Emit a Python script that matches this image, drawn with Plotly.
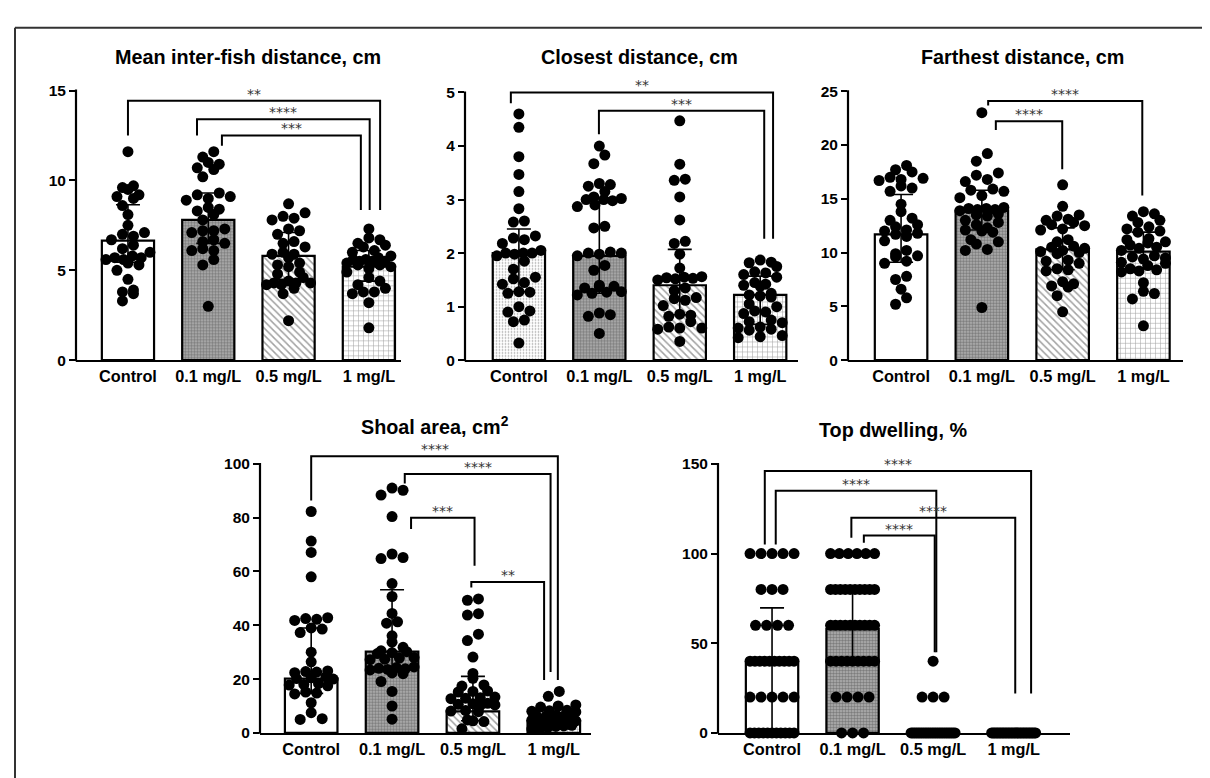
import plotly.graph_objects as go

W, H = 1210, 778
categories = ["Control", "0.1 mg/L", "0.5 mg/L", "1 mg/L"]

# ---------- Panel 1: Mean inter-fish distance, cm ----------
mean_ctrl = [11.6, 9.7, 9.6, 9.5, 9.2, 9.1, 9.0, 8.6, 8.1, 7.5, 7.1, 7.0, 6.9, 6.7, 6.4,
             6.2, 6.0, 5.8, 5.7, 5.7, 5.6, 5.6, 5.4, 5.3, 5.0, 4.5, 3.9, 3.8, 3.7, 3.3]
mean_01 = [11.6, 11.3, 11.0, 10.9, 10.7, 10.6, 10.2, 9.3, 9.2, 9.1, 9.0, 8.9, 8.5, 8.4, 8.3,
           8.1, 7.8, 7.3, 7.2, 7.2, 7.1, 6.7, 6.6, 6.5, 6.2, 6.1, 6.1, 5.6, 5.3, 3.0]
mean_05 = [8.7, 8.2, 8.0, 7.9, 7.8, 7.3, 7.2, 7.0, 6.6, 6.5, 6.3, 6.0, 5.9, 5.9, 5.7,
           5.4, 5.3, 5.2, 4.9, 4.8, 4.6, 4.4, 4.3, 4.3, 4.3, 4.2, 4.2, 4.0, 3.7, 2.2]
mean_1 = [7.3, 6.8, 6.7, 6.5, 6.4, 6.3, 6.1, 6.0, 5.8, 5.7, 5.6, 5.6, 5.5, 5.5, 5.5,
          5.4, 5.3, 5.3, 5.2, 5.1, 4.9, 4.6, 4.4, 4.2, 4.0, 3.8, 3.8, 3.7, 3.2, 1.8]
mean_bar = [6.65, 7.8, 5.8, 5.2]
mean_err_up = [2.0, 1.5, 1.3, 0.9]
mean_err_dn = [1.2, 1.3, 1.3, 0.8]

# ---------- Panel 2: Closest distance, cm ----------
close_ctrl = [4.6, 4.35, 3.8, 3.47, 3.15, 2.83, 2.6, 2.58, 2.32, 2.28, 2.25, 2.18, 2.05, 2.0, 2.0,
              2.0, 1.98, 1.95, 1.85, 1.7, 1.55, 1.52, 1.45, 1.42, 1.28, 1.27, 1.25, 1.0, 0.92,
              0.9, 0.75, 0.72, 0.32]
close_01 = [4.0, 3.83, 3.67, 3.3, 3.28, 3.25, 3.15, 3.05, 3.02, 3.0, 3.0, 2.98, 2.9, 2.87, 2.5,
            2.47, 2.02, 2.0, 2.0, 1.98, 1.95, 1.77, 1.68, 1.4, 1.38, 1.37, 1.35, 1.28, 1.27,
            1.25, 1.22, 0.88, 0.85, 0.82, 0.5]
close_05 = [4.47, 3.66, 3.38, 3.36, 3.05, 2.62, 2.22, 2.18, 1.98, 1.72, 1.56, 1.55, 1.54, 1.53,
            1.52, 1.5, 1.35, 1.3, 1.17, 1.15, 1.12, 1.02, 0.86, 0.84, 0.82, 0.72, 0.62, 0.6,
            0.6, 0.58, 0.35]
close_1 = [1.87, 1.83, 1.82, 1.75, 1.65, 1.63, 1.6, 1.55, 1.45, 1.42, 1.4, 1.38, 1.25, 1.22, 1.2,
           1.18, 1.05, 1.0, 0.92, 0.9, 0.87, 0.75, 0.72, 0.7, 0.62, 0.6, 0.58, 0.56, 0.46,
           0.44, 0.42]
close_bar = [2.0, 1.95, 1.4, 1.22]
close_err_up = [0.45, 1.08, 0.67, 0.35]
close_err_dn = [0.72, 0.7, 0.55, 0.55]

# ---------- Panel 3: Farthest distance, cm ----------
far_ctrl = [18.1, 17.7, 17.5, 17.0, 16.9, 16.8, 16.7, 16.2, 16.0, 15.7, 14.5, 13.8, 13.2, 13.0,
            12.6, 12.4, 12.1, 12.0, 11.8, 11.7, 11.5, 11.1, 10.2, 9.9, 9.7, 9.6, 9.2, 9.0,
            7.8, 7.5, 6.6, 5.8, 5.2]
far_01 = [23.0, 19.2, 18.5, 17.4, 17.2, 16.8, 16.6, 15.9, 15.8, 15.7, 15.3, 15.1, 14.2, 14.1,
          14.1, 14.0, 14.0, 13.9, 13.6, 13.5, 13.4, 13.0, 12.8, 12.6, 12.3, 12.1, 12.0, 11.9,
          11.2, 11.0, 10.8, 10.3, 10.2, 4.9]
far_05 = [16.3, 14.3, 13.5, 13.4, 13.1, 13.0, 12.8, 12.6, 12.5, 12.2, 12.1, 11.2, 11.0, 10.6,
          10.5, 10.4, 10.2, 10.1, 10.0, 9.9, 9.3, 9.2, 9.0, 8.5, 8.4, 8.3, 7.3, 7.1, 6.9, 6.8,
          6.0, 4.5]
far_1 = [13.8, 13.6, 13.4, 13.0, 12.8, 12.4, 12.2, 12.0, 11.9, 11.3, 11.2, 11.0, 10.9, 10.7,
         10.5, 10.4, 10.2, 9.7, 9.6, 9.5, 9.4, 9.1, 9.0, 8.8, 8.5, 8.4, 8.3, 8.2, 7.2, 6.4,
         6.2, 5.7, 3.2]
far_bar = [11.7, 13.9, 10.3, 10.1]
far_err_up = [3.7, 1.9, 2.0, 1.8]
far_err_dn = [2.6, 1.8, 1.9, 1.6]

# ---------- Panel 4: Shoal area, cm2 ----------
area_ctrl = [82.3, 71.3, 67.1, 58.0, 42.8, 42.5, 42.2, 41.8, 39.0, 38.6, 37.3, 30.0, 26.4, 23.0,
             22.8, 22.6, 22.4, 20.8, 20.5, 20.2, 20.0, 18.3, 18.0, 17.8, 17.5, 15.2, 14.8, 14.5,
             11.2, 7.5, 5.3, 5.0]
area_01 = [91.0, 90.2, 88.4, 80.4, 66.5, 65.2, 64.8, 55.5, 50.7, 44.4, 41.3, 40.8, 36.1, 33.7,
           31.8, 30.5, 30.2, 29.8, 29.5, 28.0, 27.8, 27.4, 27.2, 24.5, 24.3, 24.0, 23.8, 23.6,
           23.4, 22.3, 22.0, 19.1, 15.4, 10.0, 5.1]
area_05 = [49.8, 49.3, 44.3, 43.8, 36.7, 34.3, 28.2, 22.1, 20.3, 17.8, 17.4, 15.6, 15.4, 15.2,
           13.3, 13.1, 12.9, 12.7, 11.0, 10.8, 10.6, 10.4, 10.2, 8.3, 8.1, 7.9, 4.8, 4.5, 4.2, 1.5]
area_1 = [15.4, 13.6, 10.4, 10.0, 9.6, 8.4, 8.2, 8.0, 7.8, 7.0, 6.6, 6.4, 6.2, 6.0, 5.8, 5.5,
          4.9, 4.7, 4.5, 4.3, 4.1, 3.8, 3.2, 3.0, 2.8, 2.6, 2.4, 2.1, 1.6, 1.4]
area_bar = [20.2, 30.2, 8.0, 4.5]
area_err_up = [18.8, 23.0, 13.0, 2.5]
area_err_dn = [5.5, 7.0, 3.5, 2.0]

# ---------- Panel 5: Top dwelling, % ----------
top_ctrl = [100] * 5 + [80] * 3 + [60] * 4 + [40] * 10 + [20] * 5 + [0] * 11
top_01 = [100] * 6 + [80] * 10 + [60] * 10 + [40] * 9 + [20] * 4 + [0] * 3
top_05 = [40] * 1 + [20] * 3 + [0] * 26
top_1 = [0] * 30
top_bar = [38.7, 58.0, 0.0, 0.0]
top_err_up = [31.0, 21.0, 0.0, 0.0]
top_err_dn = [38.7, 18.0, 0.0, 0.0]

# ---------- significance brackets: (x_left, x_right, y, y_left_end, y_right_end, label)
sig_mean = [(0.0, 3.14, 14.43, 12.5, 8.36, "**"),
            (0.86, 3.01, 13.4, 12.5, 8.36, "****"),
            (1.17, 2.9, 12.5, 11.93, 8.36, "***")]
sig_close = [(-0.10, 3.16, 5.0, 4.8, 2.27, "**"),
             (0.995, 3.05, 4.66, 4.22, 2.27, "***")]
sig_far = [(1.078, 2.986, 24.1, 23.66, 15.3, "****"),
           (1.173, 1.995, 22.2, 21.4, 17.75, "****")]
sig_area = [(0.0, 3.05, 102.8, 86.4, 19.7, "****"),
            (1.157, 2.96, 96.2, 92.7, 22.6, "****"),
            (1.235, 2.02, 80.0, 75.8, 62.1, "***"),
            (1.98, 2.88, 56.1, 54.0, 19.7, "**")]
sig_top = [(-0.09, 3.217, 146, 105, 22, "****"),
           (0.046, 2.04, 135, 105, 45, "****"),
           (0.985, 3.02, 120, 108.8, 22, "****"),
           (1.14, 2.02, 110, 106, 45, "****")]

# pattern styles
P_WHITE = dict(shape="", fg="black", bg="white", size=6, sol=0.3)
P_LIGHT = dict(shape=".", fg="#b0b0b0", bg="white", size=3, sol=0.25)
P_DENSE = dict(shape=".", fg="#303030", bg="#b4b4b4", size=3, sol=0.55)
P_DIAG = dict(shape="\\", fg="#111", bg="white", size=5, sol=0.3)
P_GRID = dict(shape="+", fg="#111", bg="white", size=5, sol=0.2)

panels = [
    dict(title="Mean inter-fish distance, cm", tx=240, ty=43,
         groups=[mean_ctrl, mean_01, mean_05, mean_1], bar=mean_bar,
         up=mean_err_up, dn=mean_err_dn, sig=sig_mean,
         px=(68, 393), r=(-0.647, 3.40), py0=352, pyt=77, ttop=15, yext=15.4,
         ticks=[0, 5, 10, 15], pats=[P_WHITE, P_DENSE, P_DIAG, P_GRID]),
    dict(title="Closest distance, cm", tx=631, ty=43,
         groups=[close_ctrl, close_01, close_05, close_1], bar=close_bar,
         up=close_err_up, dn=close_err_dn, sig=sig_close,
         px=(457, 790), r=(-0.67, 3.47), py0=352, pyt=79, ttop=5, yext=5.15,
         ticks=[0, 1, 2, 3, 4, 5], pats=[P_LIGHT, P_DENSE, P_DIAG, P_GRID]),
    dict(title="Farthest distance, cm", tx=1014, ty=43,
         groups=[far_ctrl, far_01, far_05, far_1], bar=far_bar,
         up=far_err_up, dn=far_err_dn, sig=sig_far,
         px=(840, 1175), r=(-0.657, 3.49), py0=352, pyt=77.7, ttop=25, yext=25.5,
         ticks=[0, 5, 10, 15, 20, 25], pats=[P_WHITE, P_DENSE, P_DIAG, P_GRID]),
    dict(title="Shoal area, cm<sup>2</sup>", tx=427, ty=419,
         groups=[area_ctrl, area_01, area_05, area_1], bar=area_bar,
         up=area_err_up, dn=area_err_dn, sig=sig_area,
         px=(252, 583), r=(-0.633, 3.46), py0=732, pyt=457.7, ttop=100, yext=104.5,
         ticks=[0, 20, 40, 60, 80, 100], pats=[P_WHITE, P_DENSE, P_DIAG, P_GRID]),
    dict(title="Top dwelling, %", tx=885, ty=423,
         groups=[top_ctrl, top_01, top_05, top_1], bar=top_bar,
         up=top_err_up, dn=top_err_dn, sig=sig_top,
         px=(710, 1062), r=(-0.671, 3.70), py0=732, pyt=457.7, ttop=150, yext=151,
         ticks=[0, 50, 100, 150], pats=[P_WHITE, P_DENSE, P_DIAG, P_GRID]),
]

DOT = 11.0


def swarm(values, center, pxu_x, pxu_y, d=DOT, maxspan=44.0):
    vals = sorted(values)
    rows = []
    for v in vals:
        if rows and (v - rows[-1][0]) * pxu_y < 0.8 * d:
            rows[-1].append(v)
        else:
            rows.append([v])
    xs, ys = [], []
    for row in rows:
        n = len(row)
        s = d if n < 2 else min(d, maxspan / (n - 1))
        order = sorted(range(n), key=lambda k: (k % 2, k))
        for i, v in zip(order, row):
            off = (i - (n - 1) / 2) * s
            xs.append(center + off / pxu_x)
            ys.append(v)
    return xs, ys


fig = go.Figure()
layout = dict(width=W, height=H, margin=dict(l=0, r=0, t=0, b=0),
              paper_bgcolor="white", plot_bgcolor="white", showlegend=False,
              font=dict(family="Liberation Sans, Arial, sans-serif", color="black"))
shapes, annotations = [], []
FONT_Y = dict(family="Liberation Sans, Arial", size=15.5, color="black", weight="bold")
FONT_X = dict(family="Liberation Sans, Arial", size=16.3, color="black", weight="bold")

for i, p in enumerate(panels, start=1):
    xa, ya = f"x{i}", f"y{i}"
    px0, px1 = p["px"]
    r0, r1 = p["r"]
    pxu_x = (px1 - px0) / (r1 - r0)
    pxu_y = (p["py0"] - p["pyt"]) / p["ttop"]
    ytop_px = p["py0"] - p["yext"] * pxu_y
    dom_x = [px0 / W, px1 / W]
    dom_y = [1 - p["py0"] / H, 1 - ytop_px / H]

    pats = p["pats"]
    fig.add_trace(go.Bar(
        x=[0, 1, 2, 3], y=p["bar"], width=0.65, xaxis=xa, yaxis=ya,
        marker=dict(color=[q["bg"] for q in pats],
                    line=dict(color="black", width=2.2),
                    pattern=dict(shape=[q["shape"] for q in pats],
                                 fgcolor=[q["fg"] for q in pats],
                                 bgcolor=[q["bg"] for q in pats],
                                 size=[q["size"] for q in pats],
                                 solidity=[q["sol"] for q in pats])),
        error_y=dict(type="data", symmetric=False, array=p["up"], arrayminus=p["dn"],
                     color="black", thickness=1.6, width=12),
        hoverinfo="skip"))
    for g, vals in enumerate(p["groups"]):
        xs, ys = swarm(vals, g, pxu_x, pxu_y)
        fig.add_trace(go.Scatter(x=xs, y=ys, mode="markers", xaxis=xa, yaxis=ya,
                                 marker=dict(color="black", size=DOT, line=dict(width=0)),
                                 cliponaxis=False, hoverinfo="skip"))

    sfx = "" if i == 1 else str(i)
    layout["xaxis" + sfx] = dict(domain=dom_x, range=[r0, r1], anchor=ya,
                                 tickvals=[0, 1, 2, 3], ticktext=categories,
                                 showline=True, linecolor="black", linewidth=2.2,
                                 ticks="", showgrid=False, zeroline=False,
                                 tickfont=FONT_X, fixedrange=True)
    layout["yaxis" + sfx] = dict(domain=dom_y, range=[0, p["yext"]], anchor=xa,
                                 tickvals=p["ticks"], ticks="outside", ticklen=6,
                                 tickwidth=2, tickcolor="black", showline=False,
                                 showgrid=False, zeroline=False,
                                 tickfont=FONT_Y, fixedrange=True)
    # y axis line up to the top tick
    shapes.append(dict(type="line", xref="paper", yref="paper",
                       x0=dom_x[0], x1=dom_x[0], y0=dom_y[0] - 1 / H,
                       y1=1 - p["pyt"] / H + 1 / H,
                       line=dict(color="black", width=2.2)))
    # brackets
    for (xl, xr, yb, yl, yr, lab) in p["sig"]:
        shapes.append(dict(type="path", xref=xa, yref=ya,
                           path=f"M {xl},{yl} L {xl},{yb} L {xr},{yb} L {xr},{yr}",
                           line=dict(color="black", width=2)))
        annotations.append(dict(x=(xl + xr) / 2, y=yb, xref=xa, yref=ya,
                                text=lab, showarrow=False, yanchor="bottom",
                                yshift=-3,
                                font=dict(size=14, color="#333",
                                          family="DejaVu Sans")))
    annotations.append(dict(x=p["tx"] / W, y=1 - p["ty"] / H, xref="paper", yref="paper",
                            text=p["title"], showarrow=False, xanchor="center",
                            yanchor="middle",
                            font=dict(size=19.8, color="black", weight="bold",
                                      family="Liberation Sans, Arial")))

# outer frame (top and left edges)
shapes.append(dict(type="line", xref="paper", yref="paper", x0=7 / W, x1=1,
                   y0=1 - 13 / H, y1=1 - 13 / H, line=dict(color="#333", width=2)))
shapes.append(dict(type="line", xref="paper", yref="paper", x0=7 / W, x1=7 / W,
                   y0=1 - 13 / H, y1=0, line=dict(color="#333", width=2)))

layout["shapes"] = shapes
layout["annotations"] = annotations
fig.update_layout(**layout)
fig.write_html("out.html")
